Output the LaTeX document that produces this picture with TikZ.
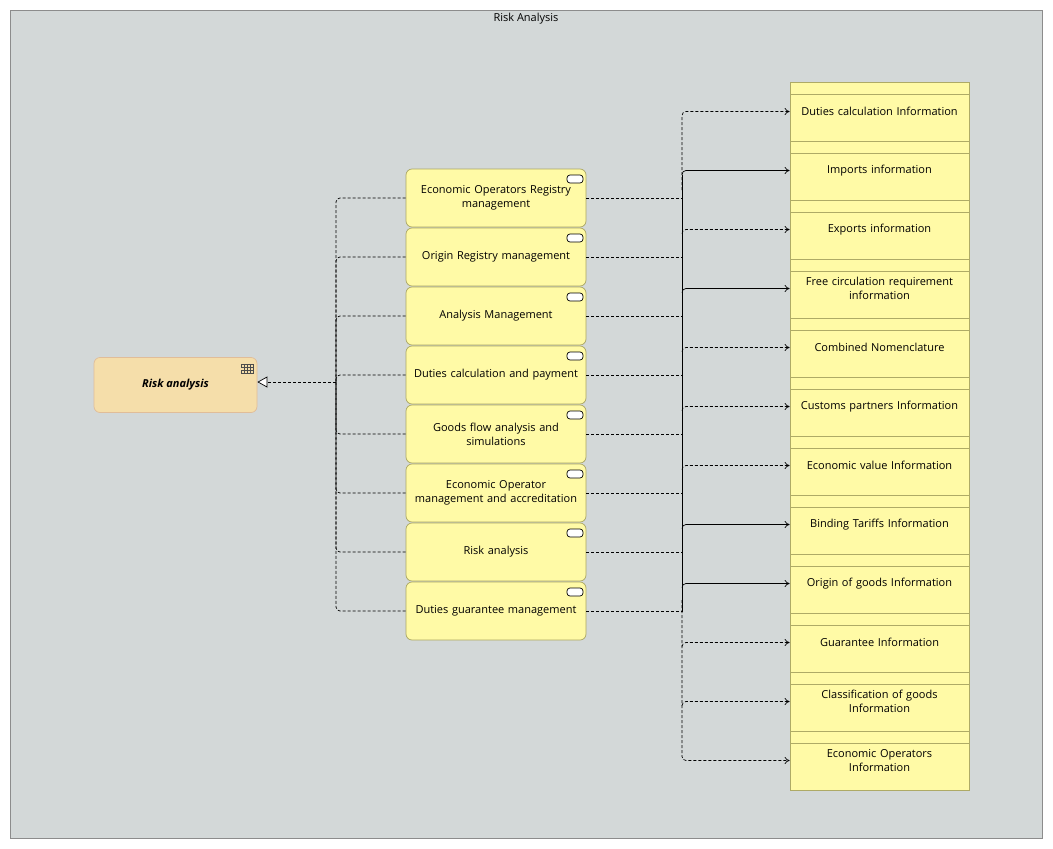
\documentclass[tikz,border=0pt]{standalone}
\usepackage{fontspec}
\setmainfont{Open Sans}
\usetikzlibrary{arrows.meta,positioning}
\hyphenpenalty=10000
\tikzset{
  every path/.style={line width=0.7pt},
  lbl/.style={font=\fontsize{11}{14}\selectfont},
  svc/.style={lbl, draw=black!30!yellow!60!gray, fill=yellow!35, rounded corners=6pt,
    minimum width=180pt, minimum height=58pt, text width=176pt, inner sep=2pt, align=center},
  dobj/.style={lbl, draw=black!25!yellow!55!gray, fill=yellow!35, minimum width=179pt,
    minimum height=59pt, text width=175pt, inner sep=2pt, align=center},
  flow/.style={densely dashed, -{To[length=5pt,width=7pt]}},
  access/.style={-{To[length=5pt,width=7pt]}},
  realize/.style={densely dashed, -{Triangle[open,length=10pt,width=11pt,fill=white]}},
}
\begin{document}
\begin{tikzpicture}[x=1pt,y=-1pt]
\useasboundingbox (0,0) rectangle (1053,849);
\draw[fill={rgb,255:red,211;green,216;blue,216}, draw=black!45] (10,10) rectangle (1042,838);
\node[lbl] at (526,19) {Risk Analysis};

% function
\node[draw=black!30!orange!40, fill={rgb,255:red,245;green,222;blue,170}, rounded corners=6pt,
  minimum width=163pt, minimum height=55pt, font=\bfseries\itshape\fontsize{11}{14}\selectfont]
  (fn) at (175.5,385) {Risk analysis};
\draw[black!70, line width=0.5pt] (241,364) rectangle ++(12,3) (244,367) rectangle ++(9,6)
  (241,370) rectangle ++(12,3) (247,364) -- (247,373) (250,364) -- (250,373) (244,364) -- (244,367);

% services
\foreach \n/\t [count=\k from 0] in {
  s1/{Economic Operators Registry\\management},
  s2/{Origin Registry management},
  s3/{Analysis Management},
  s4/{Duties calculation and payment},
  s5/{Goods flow analysis and\\simulations},
  s6/{Economic Operator\\management and accreditation},
  s7/{Risk analysis},
  s8/{Duties guarantee management}}{
  \node[svc] (\n) at (496,198+\k*59) {\t};
  \draw[fill=white, rounded corners=3pt] (567,175+\k*59) rectangle (583,183+\k*59);
}

% data objects
\foreach \n/\t [count=\k from 0] in {
  d1/{Duties calculation Information},
  d2/{Imports information},
  d3/{Exports information},
  d4/{Free circulation requirement\\information},
  d5/{Combined Nomenclature},
  d6/{Customs partners Information},
  d7/{Economic value Information},
  d8/{Binding Tariffs Information},
  d9/{Origin of goods Information},
  d10/{Guarantee Information},
  d11/{Classification of goods\\Information},
  d12/{Economic Operators\\Information}}{
  \node[dobj] (\n) at (879.5,111.5+\k*59) {\t};
  \draw[black!25!yellow!55!gray] (790,94+\k*59) -- (969,94+\k*59);
}

% realization to function
\foreach \n in {s1,s2,s3,s4,s5,s6,s7,s8}{
  \draw[densely dashed, rounded corners=4pt] (\n.west) -| (336,382);
}
\draw[realize] (336,382) -- (fn.east |- 0,382);

% services to bus
\foreach \n in {s1,s2,s3,s4,s5,s6,s7,s8}{
  \draw[densely dashed] (\n.east) -- (682,0 |- \n.east);
}
\draw[flow, rounded corners=4pt] (682,190) |- (d1.west);
\draw (682,175) -- (682,612);

% bus to data
\foreach \n in {d3,d5,d6,d7,d10,d11}{
  \draw[flow, rounded corners=4pt] (682,0 |- \n.west) ++(0,4) |- (\n.west);
}
\foreach \n in {d2,d4,d8,d9}{
  \draw[access, rounded corners=4pt] (682,0 |- \n.west) ++(0,4) |- (\n.west);
}
\draw[flow, rounded corners=4pt] (682,600) |- (d12.west);
\end{tikzpicture}
\end{document}
